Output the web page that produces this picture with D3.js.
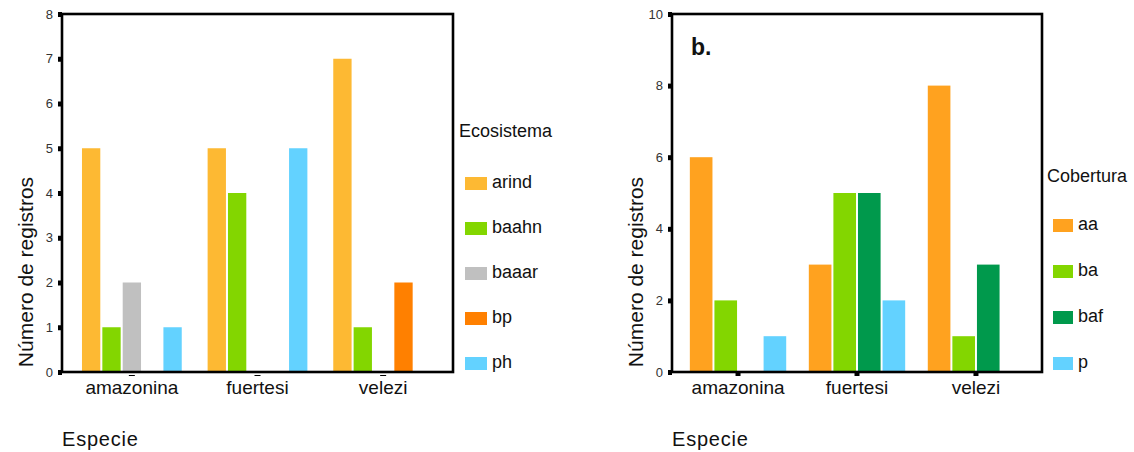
<!DOCTYPE html>
<html>
<head>
<meta charset="utf-8">
<script src="https://cdn.jsdelivr.net/npm/d3@7"></script>
<style>
  body { margin: 0; background: #fff; }
  svg { display: block; font-family: "Liberation Sans", Arial, sans-serif; }
</style>
</head>
<body>
<script>
// Especies (eje x, comun a los dos paneles)
var especies = ["amazonina", "fuertesi", "velezi"];

// Panel a: ecosistema
var ecosistemas = ["arind", "baahn", "baaar", "bp", "ph"];
var arind = [5, 5, 7];
var baahn = [1, 4, 1];
var baaar = [2, 0, 0];
var bp    = [0, 0, 2];
var ph    = [1, 5, 0];
var ticksA = [0, 1, 2, 3, 4, 5, 6, 7, 8];

// Panel b: cobertura
var coberturas = ["aa", "ba", "baf", "p"];
var aa  = [6, 3, 8];
var ba  = [2, 5, 1];
var baf = [0, 5, 3];
var p   = [1, 2, 0];
var ticksB = [0, 2, 4, 6, 8, 10];

var W = 1134, H = 452;

var svg = d3.select("body")
    .append("svg")
    .attr("width", W)
    .attr("height", H);

// dibuja un panel
function panel(cfg) {
  var g = svg.append("g");

  var x = d3.scaleBand()
      .domain(especies)
      .range([cfg.left, cfg.right])
      .paddingInner(cfg.padIn)
      .paddingOuter(cfg.padOut);

  var xi = d3.scaleBand()
      .domain(cfg.keys)
      .range([0, x.bandwidth()])
      .paddingInner(cfg.barPad);

  var y = d3.scaleLinear()
      .domain([0, d3.max(cfg.ticks)])
      .range([372, 14]);

  var color = d3.scaleOrdinal()
      .domain(cfg.keys)
      .range(cfg.colors);

  // tabla especie x serie
  var rows = especies.map(function(e, i) {
    return cfg.keys.map(function(k, j) {
      return { esp: e, key: k, v: cfg.series[j][i] };
    });
  });

  g.selectAll("g.grupo")
    .data(rows)
    .enter()
    .append("g")
    .attr("class", "grupo")
    .attr("transform", function(d, i) { return "translate(" + x(especies[i]) + ",0)"; })
    .selectAll("rect")
    .data(function(d) { return d.filter(function(c) { return c.v > 0; }); })
    .enter()
    .append("rect")
    .attr("x", function(d) { return xi(d.key); })
    .attr("y", function(d) { return y(d.v); })
    .attr("width", xi.bandwidth())
    .attr("height", function(d) { return y(0) - y(d.v); })
    .attr("fill", function(d) { return color(d.key); });

  // marco
  g.append("rect")
    .attr("x", cfg.left)
    .attr("y", y.range()[1])
    .attr("width", cfg.right - cfg.left)
    .attr("height", y.range()[0] - y.range()[1])
    .attr("fill", "none")
    .attr("stroke", "#000")
    .attr("stroke-width", 2.6);

  // eje y
  var ay = g.append("g")
    .attr("transform", "translate(" + cfg.left + ",0)")
    .call(d3.axisLeft(y).tickValues(cfg.ticks).tickSize(4).tickPadding(5).tickFormat(d3.format("d")));
  ay.select(".domain").remove();
  ay.selectAll(".tick line").attr("stroke", "#000").attr("stroke-width", 5);
  ay.selectAll(".tick text")
    .attr("font-size", "13px")
    .attr("font-family", "'Liberation Sans', Arial, sans-serif")
    .attr("fill", "#333");

  // eje x
  var ax = g.append("g")
    .attr("transform", "translate(0," + y(0) + ")")
    .call(d3.axisBottom(x).tickSize(4).tickPadding(0));
  ax.select(".domain").remove();
  if (cfg.thinTicks) {
    ax.selectAll(".tick line")
      .attr("x1", -3).attr("x2", 3)
      .attr("y1", 3.5).attr("y2", 3.5)
      .attr("stroke", "#000").attr("stroke-width", 1);
  } else {
    ax.selectAll(".tick line").attr("stroke", "#000").attr("stroke-width", 5);
  }
  ax.selectAll(".tick text")
    .attr("y", 8.5)
    .attr("font-size", "19px")
    .attr("font-family", "'Liberation Sans', Arial, sans-serif")
    .attr("fill", "#111");

  // titulos
  g.append("text")
    .attr("transform", "translate(" + (cfg.left - 29) + ",272) rotate(-90)")
    .attr("text-anchor", "middle")
    .attr("font-size", "21px")
    .attr("fill", "#111")
    .text("Número de registros");

  g.append("text")
    .attr("x", cfg.left)
    .attr("y", 446)
    .attr("font-size", "20px")
    .attr("letter-spacing", "0.8px")
    .attr("fill", "#111")
    .text("Especie");

  // leyenda
  var lg = g.append("g");
  lg.append("text")
    .attr("x", cfg.legX)
    .attr("y", cfg.legTitleY)
    .attr("font-size", "18px")
    .attr("fill", "#111")
    .text(cfg.legTitle);

  var ly = d3.scalePoint()
      .domain(cfg.keys)
      .range(cfg.legRows);

  var item = lg.selectAll("g.item")
    .data(cfg.keys)
    .enter()
    .append("g")
    .attr("class", "item")
    .attr("transform", function(d) { return "translate(" + cfg.swX + "," + ly(d) + ")"; });
  item.append("rect")
    .attr("width", cfg.swW)
    .attr("height", 13)
    .attr("fill", function(d) { return color(d); });
  item.append("text")
    .attr("x", cfg.swW + 5)
    .attr("y", 11)
    .attr("font-size", "18px")
    .attr("fill", "#111")
    .text(function(d) { return d; });

  return g;
}

panel({
  left: 62, right: 453,
  padIn: 0.206, padOut: 0.159, barPad: 0.1,
  keys: ecosistemas,
  series: [arind, baahn, baaar, bp, ph],
  colors: ["#fdb933", "#83d600", "#c0c0c0", "#ff8000", "#63d2ff"],
  ticks: ticksA,
  thinTicks: true,
  legTitle: "Ecosistema", legX: 459, legTitleY: 137,
  swX: 465, swW: 22, legRows: [177, 357]
});

var gb = panel({
  left: 672, right: 1042,
  padIn: 0.19, padOut: 0.15, barPad: 0.08,
  keys: coberturas,
  series: [aa, ba, baf, p],
  colors: ["#ffa21f", "#83d600", "#00994c", "#63d2ff"],
  ticks: ticksB,
  thinTicks: false,
  legTitle: "Cobertura", legX: 1047, legTitleY: 182,
  swX: 1053, swW: 20, legRows: [219, 357]
});

gb.append("text")
  .attr("x", 691)
  .attr("y", 55)
  .attr("font-size", "23px")
  .attr("font-weight", "bold")
  .attr("fill", "#111")
  .text("b.");
</script>
</body>
</html>
